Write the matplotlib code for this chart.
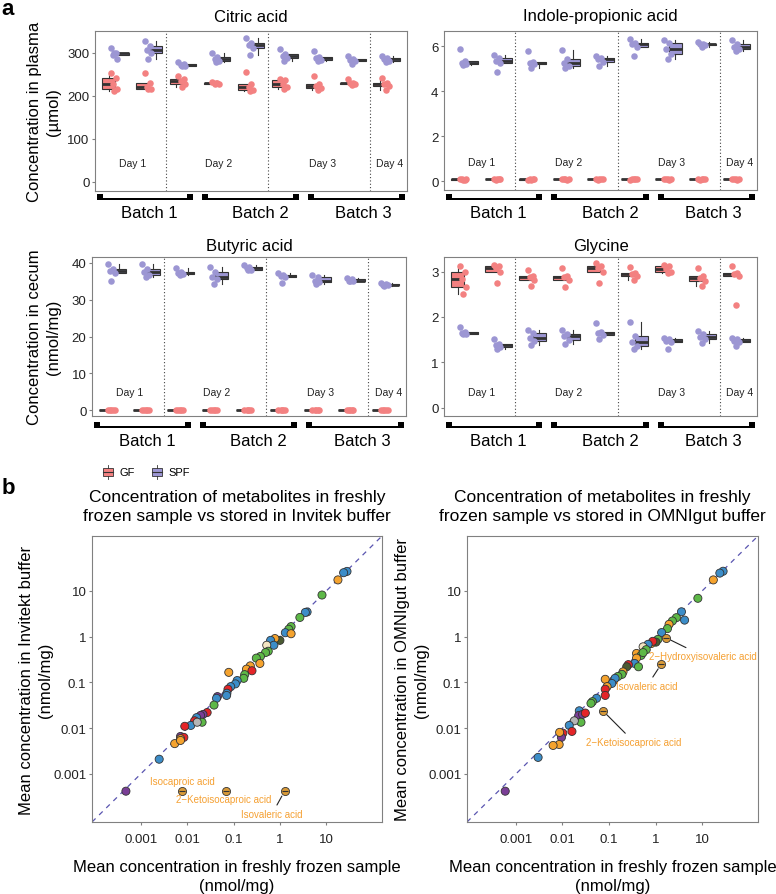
import numpy as np
import matplotlib
matplotlib.use('Agg')
import matplotlib.pyplot as plt
from matplotlib.patches import Rectangle
from matplotlib.lines import Line2D

plt.rcParams['font.family'] = ['Liberation Sans', 'DejaVu Sans']

W, H = 776, 895

##### panel a data (9 sampling groups, GF vs SPF mice)
positions = [1, 2, 3, 4, 5, 6, 7, 8, 9]
day_labels = ['Day 1', 'Day 2', 'Day 3', 'Day 4']
day_pos = [1.5, 4.05, 7.1, 9.1]
day_breaks = [2.5, 5.5, 8.5]
batch_labels = ['Batch 1', 'Batch 2', 'Batch 3']

citric_gf = [[253, 240, 228, 215, 212], [252, 230, 220, 216, 216], [246, 238, 234, 228, 221],
             [232, 230, 228, 227, 229], [255, 227, 221, 213, 211], [238, 236, 227, 221, 215],
             [246, 228, 222, 217, 213], [238, 230, 229, 228, 224], [241, 230, 226, 222, 214]]
citric_spf = [[311, 300, 295, 286, 298], [327, 315, 306, 300, 285], [278, 273, 271, 270, 268],
              [298, 290, 285, 281, 278], [333, 322, 317, 310, 294], [309, 296, 292, 288, 281],
              [304, 290, 288, 283, 281], [292, 285, 283, 281, 273], [292, 287, 284, 281, 279]]

indole_gf = [[0.07, 0.06, 0.08, 0.07, 0.06], [0.07, 0.07, 0.06, 0.08, 0.07], [0.06, 0.07, 0.08, 0.07, 0.06],
             [0.07, 0.06, 0.07, 0.08, 0.07], [0.07, 0.08, 0.06, 0.07, 0.07], [0.06, 0.07, 0.07, 0.08, 0.07],
             [0.07, 0.06, 0.08, 0.07, 0.07], [0.07, 0.07, 0.06, 0.08, 0.07], [0.07, 0.06, 0.07, 0.07, 0.08]]
indole_spf = [[5.88, 5.33, 5.26, 5.19, 5.14], [5.59, 5.48, 5.33, 5.26, 4.84], [5.78, 5.30, 5.26, 5.19, 5.04],
              [5.82, 5.41, 5.26, 5.10, 5.04], [5.55, 5.48, 5.41, 5.30, 5.11], [6.33, 6.15, 6.07, 5.95, 5.56],
              [6.27, 6.15, 5.85, 5.63, 5.44], [6.18, 6.10, 6.07, 6.03, 5.97], [6.27, 6.07, 5.96, 5.85, 5.78]]

butyric_gf = [[0.1, 0.05, 0.12, 0.08, 0.1], [0.08, 0.1, 0.05, 0.12, 0.1], [0.1, 0.08, 0.12, 0.05, 0.1],
              [0.05, 0.1, 0.08, 0.1, 0.12], [0.1, 0.12, 0.08, 0.05, 0.1], [0.08, 0.1, 0.12, 0.1, 0.05],
              [0.1, 0.05, 0.1, 0.12, 0.08], [0.12, 0.1, 0.08, 0.1, 0.05], [0.1, 0.08, 0.05, 0.1, 0.12]]
butyric_spf = [[39.8, 38.3, 37.7, 37.2, 35.2], [39.8, 38.4, 37.5, 36.6, 36.2], [38.6, 37.6, 37.3, 36.9, 36.8],
               [38.9, 37.5, 36.2, 35.7, 34.3], [39.4, 39.0, 38.6, 38.2, 38.0], [37.3, 36.8, 36.4, 36.2, 34.6],
               [36.6, 36.2, 35.2, 34.8, 34.3], [35.8, 35.5, 35.2, 35.1, 35.0], [34.6, 34.3, 34.0, 33.9, 33.7]]

glycine_gf = [[3.13, 2.99, 2.83, 2.67, 2.50], [3.14, 3.12, 3.07, 3.00, 2.74], [3.04, 2.90, 2.87, 2.82, 2.68],
              [3.07, 2.90, 2.87, 2.82, 2.66], [3.18, 3.12, 3.07, 3.00, 2.74], [3.09, 2.96, 2.94, 2.90, 2.82],
              [3.14, 3.12, 3.05, 3.00, 2.96], [3.07, 2.90, 2.85, 2.80, 2.68], [3.13, 2.96, 2.94, 2.90, 2.26]]
glycine_spf = [[1.79, 1.67, 1.64, 1.63, 1.62], [1.51, 1.40, 1.38, 1.33, 1.30], [1.71, 1.64, 1.54, 1.47, 1.38],
               [1.71, 1.62, 1.58, 1.49, 1.40], [1.86, 1.66, 1.65, 1.60, 1.51], [1.89, 1.58, 1.45, 1.36, 1.29],
               [1.54, 1.52, 1.47, 1.45, 1.29], [1.69, 1.62, 1.57, 1.51, 1.43], [1.54, 1.51, 1.47, 1.45, 1.35]]

##### panel b data (mean concentration, nmol/mg) and metabolite class
inv_fresh = [27.9, 23.6, 17.8, 8.07, 3.85, 3.53, 2.69, 1.74, 1.55, 1.31, 1.74, 1.0, 0.78, 0.63, 0.74,
             0.52, 0.56, 0.49, 0.38, 0.31, 0.37, 0.23, 0.19, 0.25, 0.174, 0.166, 0.079, 0.12, 0.11,
             0.087, 0.076, 0.072, 0.071, 0.045, 0.043, 0.038, 0.027, 0.022, 0.0195, 0.016, 0.021,
             0.0145, 0.012, 0.0089, 0.0072, 0.0085, 0.0072, 0.0054, 0.0072, 0.0165, 0.0025, 0.00048]
inv_buffer = [26.7, 25.0, 17.4, 8.13, 3.47, 3.39, 2.63, 1.66, 1.45, 1.22, 1.16, 0.83, 0.91, 0.83, 0.65,
              0.65, 0.48, 0.45, 0.37, 0.34, 0.26, 0.23, 0.195, 0.18, 0.148, 0.123, 0.166, 0.11, 0.093,
              0.081, 0.071, 0.058, 0.052, 0.049, 0.045, 0.032, 0.022, 0.020, 0.019, 0.017, 0.0135,
              0.0145, 0.0115, 0.011, 0.0066, 0.0063, 0.0059, 0.0046, 0.0054, 0.0135, 0.0021, 0.00042]
inv_class = ['B', 'B', 'O', 'G', 'B', 'B', 'G', 'G', 'G', 'B', 'O', 'D', 'O', 'B', 'B',
             'W', 'G', 'G', 'G', 'G', 'O', 'O', 'O', 'R', 'G', 'G', 'O', 'B', 'B',
             'B', 'R', 'B', 'B', 'P', 'B', 'G', 'R', 'P', 'P', 'B', 'G',
             'R', 'B', 'R', 'P', 'R', 'O', 'O', 'O', 'Y', 'B', 'P']
inv_hl_name = ['Isocaproic acid', '2\u2212Ketoisocaproic acid', 'Isovaleric acid']
inv_hl_fresh = [0.0076, 0.069, 1.26]
inv_hl_buffer = [0.00042, 0.00042, 0.00042]

omni_fresh = [28.2, 24.0, 17.4, 8.1, 3.6, 4.2, 2.8, 2.3, 1.95, 1.8, 1.35, 1.12, 1.02, 0.81, 0.87,
              0.69, 0.54, 0.63, 0.39, 0.49, 0.54, 0.39, 0.355, 0.43, 0.26, 0.24, 0.2, 0.19, 0.155,
              0.126, 0.135, 0.115, 0.083, 0.091, 0.083, 0.083, 0.054, 0.044, 0.041, 0.023, 0.0224,
              0.027, 0.031, 0.025, 0.018, 0.014, 0.016, 0.0102, 0.0095, 0.0087, 0.0085, 0.0063,
              0.003, 0.00059]
omni_buffer = [26.9, 24.5, 17.4, 6.9, 3.5, 2.3, 2.6, 2.2, 1.86, 1.5, 1.23, 0.87, 0.76, 0.71, 0.79,
               0.68, 0.6, 0.52, 0.43, 0.39, 0.45, 0.34, 0.26, 0.22, 0.245, 0.22, 0.17, 0.15, 0.135,
               0.11, 0.123, 0.095, 0.117, 0.081, 0.071, 0.052, 0.045, 0.038, 0.035, 0.024, 0.019,
               0.02, 0.0214, 0.0135, 0.0145, 0.0115, 0.0085, 0.0078, 0.0063, 0.0081, 0.0044, 0.0042,
               0.0023, 0.00042]
omni_class = ['B', 'B', 'O', 'G', 'B', 'B', 'G', 'G', 'O', 'G', 'B', 'G', 'D', 'O', 'R',
              'B', 'W', 'G', 'O', 'G', 'G', 'O', 'B', 'G', 'R', 'D', 'O', 'G', 'G',
              'P', 'B', 'B', 'O', 'O', 'R', 'R', 'B', 'G', 'G', 'B', 'P',
              'P', 'R', 'G', 'Y', 'B', 'R', 'R', 'P', 'O', 'O', 'O',
              'B', 'P']
omni_hl_name = ['2\u2212Hydroxyisovaleric acid', 'Isovaleric acid', '2\u2212Ketoisocaproic acid']
omni_hl_fresh = [1.66, 1.32, 0.074]
omni_hl_buffer = [0.95, 0.25, 0.024]

##### styles
GF_COL = '#F38181'
SPF_COL = '#9C96D3'
EDGE = '#333333'
FRAME = '#808080'
class_col = {'B': '#3C8DC8', 'G': '#5DB847', 'O': '#F5A32E', 'R': '#E42528',
             'P': '#7A3E96', 'D': '#4B5A32', 'W': '#F3E5C2', 'Y': '#B5B5B5'}
LABEL_COL = '#F5A032'
JIT = [-0.12, 0.03, -0.05, 0.08, -0.01]

fig = plt.figure(figsize=(W / 100, H / 100), dpi=100)
fig.patch.set_facecolor('white')


def px_axes(x0, y0, x1, y1):
    return fig.add_axes([x0 / W, 1 - y1 / H, (x1 - x0) / W, (y1 - y0) / H])


def ftext(x, y, s, **kw):
    return fig.text(x / W, 1 - y / H, s, **kw)


def frame(ax):
    for sp in ax.spines.values():
        sp.set_color(FRAME)
        sp.set_linewidth(0.8)
    ax.tick_params(length=2, color=FRAME, labelsize=9.5, labelcolor='#222222', pad=2)


def box_panel(box, gf, spf, ylim, yticks, title, day_y):
    x0, y0, x1, y1 = box
    ax = px_axes(x0, y0, x1, y1)
    for vals, off, col in [(gf, -0.2, GF_COL), (spf, 0.2, SPF_COL)]:
        bp = ax.boxplot(vals, positions=np.array(positions) + off, widths=0.38,
                        patch_artist=True, showfliers=False, showcaps=False,
                        manage_ticks=False, whis=1.5)
        for b in bp['boxes']:
            b.set(facecolor=col, edgecolor=EDGE, linewidth=0.8)
        for w in bp['whiskers']:
            w.set(color=EDGE, linewidth=0.8)
        for m in bp['medians']:
            m.set(color=EDGE, linewidth=2.0)
    for vals, col in [(gf, GF_COL), (spf, SPF_COL)]:
        for p, v in zip(positions, vals):
            xs = p - 0.02 + np.array(JIT[:len(v)])
            ax.scatter(xs, v, s=22, color=col, lw=0, zorder=4)
    for b in day_breaks:
        ax.axvline(b, ls=(0, (1, 2)), color='#444444', lw=0.8)
    for d, xp in zip(day_labels, day_pos):
        ax.text(xp, day_y, d, transform=ax.get_xaxis_transform(), ha='center', va='center',
                fontsize=7.5, color='#222222',
                bbox=dict(facecolor='white', edgecolor='none', pad=1.5))
    ax.set_xlim(0.4, 9.6)
    ax.set_ylim(*ylim)
    ax.set_yticks(yticks)
    ax.set_xticks([])
    frame(ax)
    ftext((x0 + x1) / 2, y0 - 15 if y0 < 100 else y0 - 12, title, ha='center', va='center', fontsize=12)
    return ax


def batch_brackets(x0, x1, yb, ylab):
    wid = x1 - x0
    segs = [(0.006, 0.314), (0.343, 0.654), (0.683, 0.994)]
    centers = [0.175, 0.53, 0.86]
    for (a, b), c, lab in zip(segs, centers, batch_labels):
        xa, xb = x0 + a * wid, x0 + b * wid
        fig.patches.append(Rectangle((xa / W, 1 - yb / H), (xb - xa) / W, 2 / H,
                                     transform=fig.transFigure, color='black', lw=0))
        for xc in (xa, xb - 6):
            fig.patches.append(Rectangle((xc / W, 1 - yb / H), 6 / W, 6 / H,
                                         transform=fig.transFigure, color='black', lw=0))
        ftext(x0 + c * wid, ylab, lab, ha='center', va='center', fontsize=12)


##### panel a
ftext(1, -1, 'a', ha='left', va='top', fontsize=16, fontweight='bold')
box_panel((95, 32, 407, 192), citric_gf, citric_spf, (-21, 350), [0, 100, 200, 300], 'Citric acid', 0.175)
box_panel((444, 32, 757, 191), indole_gf, indole_spf, (-0.4, 6.67), [0, 2, 4, 6], 'Indole-propionic acid', 0.175)
box_panel((92, 258, 406, 417), butyric_gf, butyric_spf, (-1.6, 41.6), [0, 10, 20, 30, 40], 'Butyric acid', 0.151)
box_panel((444, 258, 757, 417), glycine_gf, glycine_spf, (-0.18, 3.32), [0, 1, 2, 3], 'Glycine', 0.151)

batch_brackets(95, 407, 201, 213)
batch_brackets(444, 757, 201, 213)
batch_brackets(92, 406, 429, 442)
batch_brackets(444, 757, 429, 442)

ftext(44, 112, 'Concentration in plasma\n(\u00b5mol)', rotation=90, ha='center', va='center',
      fontsize=12, linespacing=1.3, multialignment='center')
ftext(44, 337, 'Concentration in cecum\n(nmol/mg)', rotation=90, ha='center', va='center',
      fontsize=12, linespacing=1.3, multialignment='center')

# legend
for xk, lab, col in [(103, 'GF', GF_COL), (152, 'SPF', SPF_COL)]:
    fig.patches.append(Rectangle((xk / W, 1 - 477 / H), 10 / W, 8 / H, transform=fig.transFigure,
                                 facecolor=col, edgecolor=EDGE, lw=0.6))
    fig.lines.append(Line2D([xk / W, (xk + 10) / W], [1 - 473 / H] * 2, transform=fig.transFigure,
                            color=EDGE, lw=0.8))
    for ya, yb in [(466, 469), (477, 480)]:
        fig.lines.append(Line2D([(xk + 5) / W] * 2, [1 - ya / H, 1 - yb / H], transform=fig.transFigure,
                                color=EDGE, lw=0.6))
    ftext(xk + 16, 473, lab, ha='left', va='center', fontsize=8)

##### panel b
ftext(2, 489, 'b', ha='left', va='center', fontsize=16, fontweight='bold')

LIM = (10 ** -4.05, 10 ** 2.2)
TICKS = [0.001, 0.01, 0.1, 1, 10]
TICKLAB = ['0.001', '0.01', '0.1', '1', '10']


def scatter_panel(box, fresh, buf, cls, hl_fresh, hl_buf, title, tx, ylab, ylx):
    x0, y0, x1, y1 = box
    ax = px_axes(x0, y0, x1, y1)
    ax.set_xscale('log')
    ax.set_yscale('log')
    ax.plot(LIM, LIM, ls=(0, (4, 4)), color='#5A55B0', lw=0.9, zorder=1)
    ax.scatter(fresh, buf, s=34, c=[class_col[c] for c in cls], edgecolors='#333333',
               linewidths=0.6, zorder=3)
    ax.scatter(hl_fresh, hl_buf, s=34, c='#D99A38', edgecolors='#333333', linewidths=0.6, zorder=4)
    ax.scatter(hl_fresh, hl_buf, s=20, marker='_', c='#333333', linewidths=0.8, zorder=5)
    ax.set_xlim(*LIM)
    ax.set_ylim(*LIM)
    ax.set_xticks(TICKS)
    ax.set_xticklabels(TICKLAB)
    ax.set_yticks(TICKS)
    ax.set_yticklabels(TICKLAB)
    ax.minorticks_off()
    frame(ax)
    ax.tick_params(axis='x', pad=6)
    ftext(tx, 507, title, ha='center', va='center', fontsize=12.5, linespacing=1.25,
          multialignment='center')
    ftext((x0 + x1) / 2, 877, 'Mean concentration in freshly frozen sample\n(nmol/mg)',
          ha='center', va='center', fontsize=12, linespacing=1.3, multialignment='center')
    ftext(ylx, (y0 + y1) / 2, ylab, rotation=90, ha='center', va='center', fontsize=12,
          linespacing=1.3, multialignment='center')
    return ax


ax1 = scatter_panel((92, 537, 382, 823), inv_fresh, inv_buffer, inv_class, inv_hl_fresh, inv_hl_buffer,
                    'Concentration of metabolites in freshly\nfrozen sample vs stored in Invitek buffer', 237,
                    'Mean concentration in Invitekt buffer\n(nmol/mg)', 36)
ax2 = scatter_panel((467, 537, 758, 823), omni_fresh, omni_buffer, omni_class, omni_hl_fresh, omni_hl_buffer,
                    'Concentration of metabolites in freshly\nfrozen sample vs stored in OMNIgut buffer', 602,
                    'Mean concentration in OMNIgut buffer\n(nmol/mg)', 412)

# repelled labels (text placed in figure pixels, segment back to the point)
inv_label_px = [(182, 782, False), (224, 800, False), (272, 815, True)]
omni_label_px = [(703, 657, True), (647, 687, True), (634, 743, True)]
for ax, names, fx, fy, lp in [(ax1, inv_hl_name, inv_hl_fresh, inv_hl_buffer, inv_label_px),
                              (ax2, omni_hl_name, omni_hl_fresh, omni_hl_buffer, omni_label_px)]:
    for name, xv, yv, (tx, ty, seg) in zip(names, fx, fy, lp):
        ap = dict(arrowstyle='-', color='#222222', lw=0.8, shrinkA=1, shrinkB=4) if seg else None
        ax.annotate(name, xy=(xv, yv), xytext=(tx, H - ty), textcoords='figure pixels',
                    ha='center', va='center', fontsize=7, color=LABEL_COL, arrowprops=ap, zorder=6)

fig.savefig('out.png', dpi=100)
